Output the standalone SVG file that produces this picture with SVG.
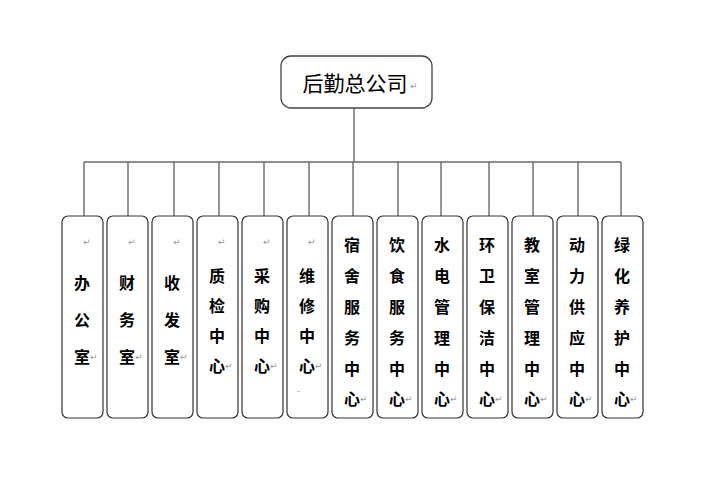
<svg xmlns="http://www.w3.org/2000/svg" width="709" height="482" viewBox="0 0 709 482">
<style>
.bg{fill:#fff}
.box{fill:#fff;stroke:#333;stroke-width:1.2}
.top{fill:#fff;stroke:#444;stroke-width:1.3}
.ln{stroke:#6a6a6a;stroke-width:1.4;fill:none}
.t{font-family:"Noto Sans CJK SC","Noto Sans CJK TC",sans-serif;font-size:16px;font-weight:bold;fill:#000;text-anchor:middle;dominant-baseline:central}
.title{font-family:"Noto Sans CJK SC","Noto Sans CJK TC",sans-serif;font-size:21px;fill:#000;text-anchor:middle;dominant-baseline:central}
.r{font-family:"DejaVu Sans",sans-serif;font-size:9px;fill:#999;dominant-baseline:central}
</style>
<rect class="bg" x="0" y="0" width="709" height="482"/>
<g id="connectors">
<path class="ln" d="M354 108V162M84 162H621"/>
<path class="ln" d="M84 162V216M128 162V216M174 162V216M219 162V216M264 162V216M309 162V216M353 162V216M398 162V216M441 162V216M489 162V216M533 162V216M578 162V216M621 162V216"/>
</g>
<g id="root">
<rect class="top" x="281" y="56" width="151" height="52" rx="10"/>
<text class="title" x="355" y="82">后勤总公司</text>
<text class="r" x="410" y="86">↵</text>
</g>
<g id="n1">
<rect class="box" x="62" y="216" width="41" height="202" rx="6"/>
<text class="r" x="83" y="242">↵</text>
<text class="t"><tspan x="82" y="282">办</tspan><tspan x="82" y="319">公</tspan><tspan x="82" y="356">室</tspan></text>
<text class="r" x="90" y="357">↵</text>
</g>
<g id="n2">
<rect class="box" x="107" y="216" width="41" height="202" rx="6"/>
<text class="r" x="128" y="242">↵</text>
<text class="t"><tspan x="127" y="282">财</tspan><tspan x="127" y="319">务</tspan><tspan x="127" y="356">室</tspan></text>
<text class="r" x="135" y="357">↵</text>
</g>
<g id="n3">
<rect class="box" x="152" y="216" width="41" height="202" rx="6"/>
<text class="r" x="173" y="242">↵</text>
<text class="t"><tspan x="172" y="282">收</tspan><tspan x="172" y="319">发</tspan><tspan x="172" y="356">室</tspan></text>
<text class="r" x="180" y="357">↵</text>
</g>
<g id="n4">
<rect class="box" x="197" y="216" width="41" height="202" rx="6"/>
<text class="r" x="218" y="242">↵</text>
<text class="t"><tspan x="217" y="275">质</tspan><tspan x="217" y="305">检</tspan><tspan x="217" y="335">中</tspan><tspan x="217" y="365">心</tspan></text>
<text class="r" x="225" y="366">↵</text>
</g>
<g id="n5">
<rect class="box" x="242" y="216" width="41" height="202" rx="6"/>
<text class="r" x="263" y="242">↵</text>
<text class="t"><tspan x="262" y="275">采</tspan><tspan x="262" y="305">购</tspan><tspan x="262" y="335">中</tspan><tspan x="262" y="365">心</tspan></text>
<text class="r" x="270" y="366">↵</text>
</g>
<g id="n6">
<rect class="box" x="287" y="216" width="41" height="202" rx="6"/>
<text class="r" x="308" y="242">↵</text>
<text class="t"><tspan x="307" y="275">维</tspan><tspan x="307" y="305">修</tspan><tspan x="307" y="335">中</tspan><tspan x="307" y="365">心</tspan></text>
<text class="r" x="315" y="366">↵</text>
<text class="r" x="297" y="391" style="font-size:4px">↵</text>
</g>
<g id="n7">
<rect class="box" x="332" y="216" width="41" height="202" rx="6"/>
<text class="t"><tspan x="352" y="244">宿</tspan><tspan x="352" y="275">舍</tspan><tspan x="352" y="306">服</tspan><tspan x="352" y="337">务</tspan><tspan x="352" y="368">中</tspan><tspan x="352" y="398">心</tspan></text>
<text class="r" x="360" y="399">↵</text>
</g>
<g id="n8">
<rect class="box" x="377" y="216" width="41" height="202" rx="6"/>
<text class="t"><tspan x="397" y="244">饮</tspan><tspan x="397" y="275">食</tspan><tspan x="397" y="306">服</tspan><tspan x="397" y="337">务</tspan><tspan x="397" y="368">中</tspan><tspan x="397" y="398">心</tspan></text>
<text class="r" x="405" y="399">↵</text>
</g>
<g id="n9">
<rect class="box" x="422" y="216" width="41" height="202" rx="6"/>
<text class="t"><tspan x="442" y="244">水</tspan><tspan x="442" y="275">电</tspan><tspan x="442" y="306">管</tspan><tspan x="442" y="337">理</tspan><tspan x="442" y="368">中</tspan><tspan x="442" y="398">心</tspan></text>
<text class="r" x="450" y="399">↵</text>
</g>
<g id="n10">
<rect class="box" x="467" y="216" width="41" height="202" rx="6"/>
<text class="t"><tspan x="487" y="244">环</tspan><tspan x="487" y="275">卫</tspan><tspan x="487" y="306">保</tspan><tspan x="487" y="337">洁</tspan><tspan x="487" y="368">中</tspan><tspan x="487" y="398">心</tspan></text>
<text class="r" x="495" y="399">↵</text>
</g>
<g id="n11">
<rect class="box" x="512" y="216" width="41" height="202" rx="6"/>
<text class="t"><tspan x="532" y="244">教</tspan><tspan x="532" y="275">室</tspan><tspan x="532" y="306">管</tspan><tspan x="532" y="337">理</tspan><tspan x="532" y="368">中</tspan><tspan x="532" y="398">心</tspan></text>
<text class="r" x="540" y="399">↵</text>
</g>
<g id="n12">
<rect class="box" x="557" y="216" width="41" height="202" rx="6"/>
<text class="t"><tspan x="577" y="244">动</tspan><tspan x="577" y="275">力</tspan><tspan x="577" y="306">供</tspan><tspan x="577" y="337">应</tspan><tspan x="577" y="368">中</tspan><tspan x="577" y="398">心</tspan></text>
<text class="r" x="585" y="399">↵</text>
</g>
<g id="n13">
<rect class="box" x="602" y="216" width="41" height="202" rx="6"/>
<text class="t"><tspan x="622" y="244">绿</tspan><tspan x="622" y="275">化</tspan><tspan x="622" y="306">养</tspan><tspan x="622" y="337">护</tspan><tspan x="622" y="368">中</tspan><tspan x="622" y="398">心</tspan></text>
<text class="r" x="630" y="399">↵</text>
</g>
</svg>
